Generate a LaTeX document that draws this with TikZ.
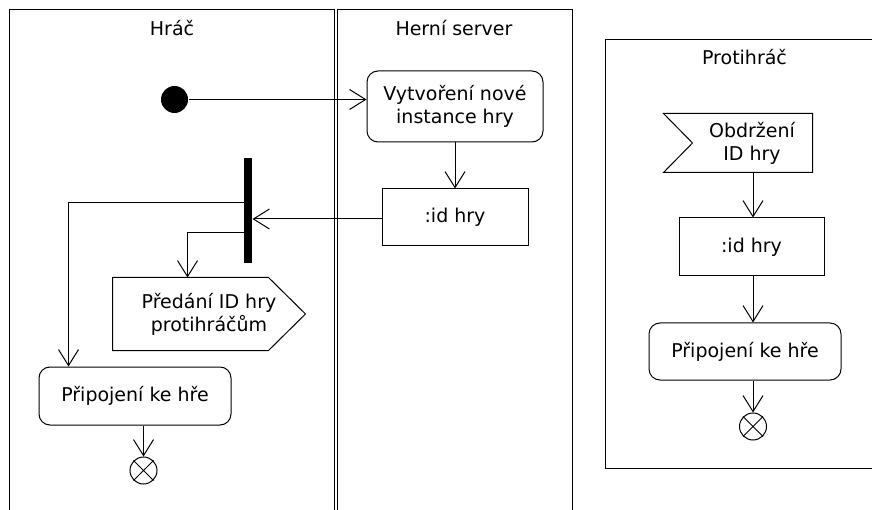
\documentclass[tikz,border=0pt]{standalone}
\usepackage{fontspec}
\setmainfont{DejaVu Sans}
\usetikzlibrary{arrows.meta,calc}

\begin{document}
\begin{tikzpicture}[x=1pt,y=-1pt,line width=1pt,
  lbl/.style={font=\fontsize{19}{23}\selectfont,align=center,inner sep=0pt},
  action/.style={lbl,draw,rounded corners=11pt},
  objbox/.style={lbl,draw},
  arr/.style={-{Straight Barb[length=16pt,width=20pt]}},
  final/.style={draw,circle,minimum size=27pt,inner sep=0pt},
]
\useasboundingbox (0,0) rectangle (872,510);

% swimlanes
\draw (9.5,510) -- (9.5,10) -- (334.5,10) -- (334.5,510);
\draw (337.5,510) -- (337.5,10) -- (572,10) -- (572,510);
\draw (872,40) -- (605,40) -- (605,468.5) -- (872,468.5);

\node[lbl,anchor=base] (hdrA) at (172,35.5) {Hráč};
\node[lbl,anchor=base] (hdrB) at (454,35.5) {Herní server};
\node[lbl,anchor=base] (hdrC) at (744.5,65) {Protihráč};

% player and server
\node[circle,fill=black,minimum size=27pt,inner sep=0pt] (start) at (174.5,99.5) {};
\node[action,minimum width=176pt,minimum height=71pt] (vyt) at (455,106.5) {Vytvoření nové\\instance hry};
\node[objbox,minimum width=146pt,minimum height=57pt] (idS) at (455,217.5) {:id hry};
\node[fill=black,minimum width=8pt,minimum height=105pt,inner sep=0pt] (bar) at (248,210.5) {};

\node[lbl,minimum width=192pt,minimum height=72pt] (pred) at (209,314) {Předání ID hry\\protihráčům};
\draw (pred.north west) -- ($(pred.north east)+(-37,0)$) -- (pred.east)
      -- ($(pred.south east)+(-37,0)$) -- (pred.south west) -- cycle;

\node[action,minimum width=192pt,minimum height=58pt] (connA) at (135,396) {Připojení ke hře};
\node[final] (endA) at (143.5,470.5) {};
\draw (endA.north west) -- (endA.south east) (endA.north east) -- (endA.south west);

% opponent
\node[minimum width=148pt,minimum height=58pt,inner sep=0pt] (obd) at (738,143) {};
\draw (obd.north west) -- (obd.north east) -- (obd.south east) -- (obd.south west)
      -- ($(obd.west)+(29,0)$) -- cycle;
\node[lbl] (obdT) at (752,143) {Obdržení\\ID hry};
\node[objbox,minimum width=145pt,minimum height=58pt] (idR) at (751.5,247) {:id hry};
\node[action,minimum width=192pt,minimum height=57pt] (connR) at (745,351.5) {Připojení ke hře};
\node[final] (endR) at (753,426.5) {};
\draw (endR.north west) -- (endR.south east) (endR.north east) -- (endR.south west);

% flows
\draw[arr] (start.east) -- (start.east -| vyt.west);
\draw[arr] (vyt.south) -- (idS.north);
\draw[arr] ([yshift=-1.5pt]idS.west) -- ([yshift=-1.5pt]idS.west -| bar.east);
\draw[arr] ([yshift=7.5pt]bar.west) -| ($(connA.north west)+(30,0)$);
\draw[arr] ([yshift=-22.5pt]bar.west) -| ($(pred.north west)+(75,0)$);
\draw[arr] (endA.north |- connA.south) -- (endA.north);
\draw[arr] (obd.south -| endR) -- (idR.north -| endR);
\draw[arr] (idR.south -| endR) -- (connR.north -| endR);
\draw[arr] (connR.south -| endR) -- (endR.north);
\end{tikzpicture}
\end{document}
